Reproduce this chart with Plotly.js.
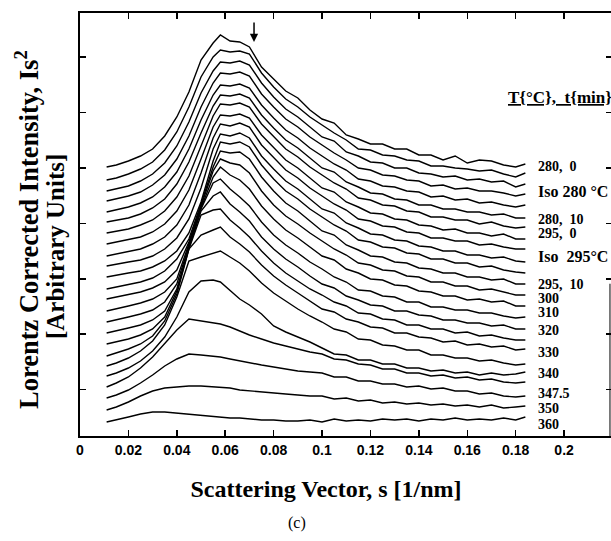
<!DOCTYPE html>
<html>
<head>
<meta charset="utf-8">
<script src="https://cdn.plot.ly/plotly-3.0.1.min.js"></script>
<style>
html,body{margin:0;padding:0;overflow:hidden;background:#fff;}
#chart{width:614px;height:541px;}
</style>
</head>
<body>
<div id="chart"></div>
<script>
// Scattering vector s [1/nm] sample positions
const s = [0.011,0.015,0.02,0.025,0.03,0.035,0.04,0.045,0.05,0.055,0.058,0.062,0.066,0.07,0.075,0.08,0.085,0.09,0.095,0.1,0.105,0.11,0.115,0.12,0.125,0.13,0.135,0.14,0.145,0.15,0.155,0.16,0.165,0.17,0.175,0.18,0.184];

// Lorentz corrected intensity (arbitrary units, curves already stacked), top to bottom
const c01 = [269,271,275,280,287,300,319,344,376,393,401,395,394,389,369,357,345,338,326,317,313,301,297,292,292,287,287,281,281,276,280,273,276,275,271,269,272];
const c02 = [256,258,262,267,274,286,304,329,359,379,386,384,385,382,363,349,337,329,319,311,303,296,287,286,281,280,276,275,270,270,268,267,265,266,262,259,263];
const c03 = [245,247,250,255,262,273,290,314,343,365,374,373,375,371,353,339,327,319,309,299,295,284,280,274,273,268,268,263,262,259,260,256,257,254,255,249,252];
const c04 = [235,237,240,244,251,261,277,300,329,353,363,362,364,360,342,329,317,309,299,291,283,276,268,266,261,260,256,255,250,251,247,248,245,245,243,240,242];
const c05 = [224,226,229,233,239,249,264,287,316,341,351,350,352,348,331,318,306,298,288,280,272,266,257,255,250,249,245,244,239,240,236,237,233,234,231,229,231];
const c06 = [214,216,218,222,228,237,252,274,303,330,341,340,342,338,321,308,296,288,278,268,264,254,249,243,242,237,236,231,231,227,227,224,224,221,222,218,218];
const c07 = [203,205,207,211,216,225,239,260,290,320,332,331,333,329,312,299,287,279,269,261,253,247,238,236,231,230,225,224,219,219,216,216,212,214,210,208,209];
const c08 = [192,194,196,199,204,212,225,246,277,309,321,320,322,318,301,288,276,268,258,248,244,234,229,223,222,217,216,211,210,206,207,203,203,200,202,197,197];
const c09 = [180,182,184,187,192,199,211,231,263,298,312,310,313,309,291,278,266,258,248,240,232,226,217,215,210,209,204,203,198,198,195,195,191,192,189,187,187];
const c10 = [170,172,174,176,180,187,198,217,248,287,302,300,303,298,280,267,255,247,237,227,223,213,208,202,201,196,195,190,189,185,185,181,181,178,179,175,174];
const c11 = [159,161,163,165,169,175,185,203,234,275,294,292,294,289,271,257,245,237,227,219,211,205,196,194,189,188,183,182,177,177,173,173,169,170,166,164,163];
const c12 = [147,149,151,154,158,165,177,197,232,269,285,283,284,277,259,245,233,225,215,205,201,191,186,180,179,174,173,168,167,163,163,159,159,156,157,152,152];
const c13 = [137,139,141,144,148,154,166,194,230,265,277,273,271,263,245,231,220,212,203,195,187,181,173,171,166,165,160,159,154,154,150,150,146,147,144,141,141];
const c14 = [125,127,130,133,137,144,157,192,228,259,269,261,256,247,230,217,206,198,189,180,176,167,163,157,156,151,150,145,144,140,140,136,137,134,135,130,130];
const c15 = [114,116,119,122,126,134,152,190,227,253,257,247,239,230,214,201,191,183,174,167,159,154,146,145,140,139,134,134,129,129,126,126,123,123,120,118,119];
const c16 = [103,105,108,111,116,125,147,188,225,240,244,232,224,215,199,187,177,169,160,152,148,140,136,131,130,125,125,121,120,116,116,113,113,110,111,107,107];
const c17 = [92,94,97,101,107,119,145,187,221,226,227,216,208,199,185,173,163,155,147,141,134,130,123,122,117,116,111,111,107,107,103,104,100,101,98,96,96];
const c18 = [80,83,87,92,100,115,142,187,201,206,209,199,192,184,171,160,151,143,135,127,124,117,114,109,108,103,103,99,98,94,95,91,92,89,90,86,87];
const c19 = [70,73,78,85,95,111,139,175,179,183,185,179,173,165,153,143,135,127,120,114,107,104,97,96,91,90,86,86,81,81,78,78,75,76,73,71,72];
const c20 = [60,63,68,75,85,99,119,144,155,156,154,145,137,131,122,110,104,99,94,88,82,81,76,76,72,72,68,68,65,66,63,64,61,63,61,62,64];
const c21 = [49,53,59,68,79,92,106,117,115,113,112,109,105,101,97,93,90,87,84,82,77,76,72,71,67,67,63,63,60,61,58,59,56,57,54,53,54];
const c22 = [38,41,46,53,61,70,77,82,81,80,79,77,75,73,71,69,67,65,64,63,59,59,55,55,52,52,49,50,47,48,45,45,42,43,40,39,40];
const c23 = [26,29,34,40,45,48,49,50,50,49,49,48,46,45,44,43,42,41,40,40,37,38,35,36,33,34,32,33,31,32,30,31,29,31,28,29,30];
const c24 = [14,16,19,22,24,24,23,22,21,20,19,18,18,17,16,16,15,15,16,14,17,15,16,15,17,16,17,15,17,16,18,16,17,16,18,16,19];

const curves = [c01,c02,c03,c04,c05,c06,c07,c08,c09,c10,c11,c12,c13,c14,c15,c16,c17,c18,c19,c20,c21,c22,c23,c24];

// Curve labels (T[°C], t[min]) and the level where each sits
const labelText = ['280,  0','Iso 280 °C','280,  10','295,  0','Iso  295°C','295,  10','300','310','320','330','340','347.5','350','360'];
const labelLevel = [270,245,217,203,180,152,138,124,106,84,63,43,28,12];
const labelBig = [false,true,false,false,true,false,false,false,false,false,false,false,false,false];

// Axis ticks
const xTickVals = [0,0.02,0.04,0.06,0.08,0.1,0.12,0.14,0.16,0.18,0.2];
const xTickText = ['0','0.02','0.04','0.06','0.08','0.1','0.12','0.14','0.16','0.18','0.2'];
const yTickVals = [46.4,101.8,157.2,212.6,268,323.4,378.8];

const traces = curves.map(c => ({
  x: s, y: c, type: 'scatter', mode: 'lines',
  line: {color: '#000', width: 1.4}, hoverinfo: 'skip'
}));

const serif = 'Liberation Serif, Times New Roman, serif';
const pad = t => '<span style="color:#ffffff">' + t + '</span>';
const annotations = labelText.map((t, i) => ({
  x: 0.1885, y: labelLevel[i], xref: 'x', yref: 'y',
  xanchor: 'left', yanchor: 'middle', showarrow: false,
  text: '<b>' + t + '</b>',
  font: {family: serif, size: labelBig[i] ? 16 : 14, color: '#000'}
}));
annotations.push({
  x: 0.1760, y: 339, xref: 'x', yref: 'y', xanchor: 'left', yanchor: 'middle',
  showarrow: false, text: '<b><u>T{°C},  t{min}</u></b>',
  font: {family: serif, size: 17, color: '#000'}
});
annotations.push({
  x: 0.0719, y: 394, xref: 'x', yref: 'y', showarrow: true,
  ax: 0, ay: -21, arrowhead: 2, arrowsize: 1.1, arrowwidth: 1.5, arrowcolor: '#000', text: ''
});
annotations.push({
  x: -0.046, y: 0.448, xref: 'paper', yref: 'paper', xanchor: 'center', yanchor: 'middle',
  textangle: -90, showarrow: false, text: '<b>[Arbitrary Units]</b>',
  font: {family: serif, size: 25, color: '#000'}
});
annotations.push({
  x: 0.408, y: -0.206, xref: 'paper', yref: 'paper', xanchor: 'center', yanchor: 'middle',
  showarrow: false, text: '(c)', font: {family: serif, size: 16, color: '#000'}
});

const layout = {
  width: 614, height: 541,
  margin: {l: 80, r: 2, t: 13, b: 105},
  paper_bgcolor: '#fff', plot_bgcolor: '#fff',
  showlegend: false, hovermode: false,
  xaxis: {
    range: [0, 0.2198], tickmode: 'array', tickvals: xTickVals, ticktext: xTickText,
    ticks: 'inside', ticklen: 6, tickwidth: 1.5, tickcolor: '#000',
    showline: true, linewidth: 2, linecolor: '#000', mirror: 'ticks',
    showgrid: false, zeroline: false,
    tickfont: {family: 'Liberation Sans, Arial, sans-serif', size: 14, color: '#000', weight: 'bold'},
    title: {text: '<b>Scattering Vector, s [1/nm]' + pad('MN') + '</b>', standoff: 23,
      font: {family: serif, size: 24, color: '#000'}}
  },
  yaxis: {
    range: [0, 423], tickmode: 'array', tickvals: yTickVals, showticklabels: false,
    ticks: 'inside', ticklen: 6, tickwidth: 1.5, tickcolor: '#000',
    showline: true, linewidth: 2, linecolor: '#000', mirror: 'ticks',
    showgrid: false, zeroline: false,
    title: {text: '<b>Lorentz Corrected Intensity, Is<sup>2</sup>' + pad('I') + '</b>', standoff: 32,
      font: {family: serif, size: 26.5, color: '#000'}}
  },
  annotations: annotations,
  shapes: [{type: 'line', xref: 'paper', yref: 'paper', x0: 0.9962, x1: 0.9962, y0: 0, y1: 0.36,
    line: {color: '#000', width: 1}}]
};

Plotly.newPlot('chart', traces, layout, {displayModeBar: false, staticPlot: true});
</script>
</body>
</html>
